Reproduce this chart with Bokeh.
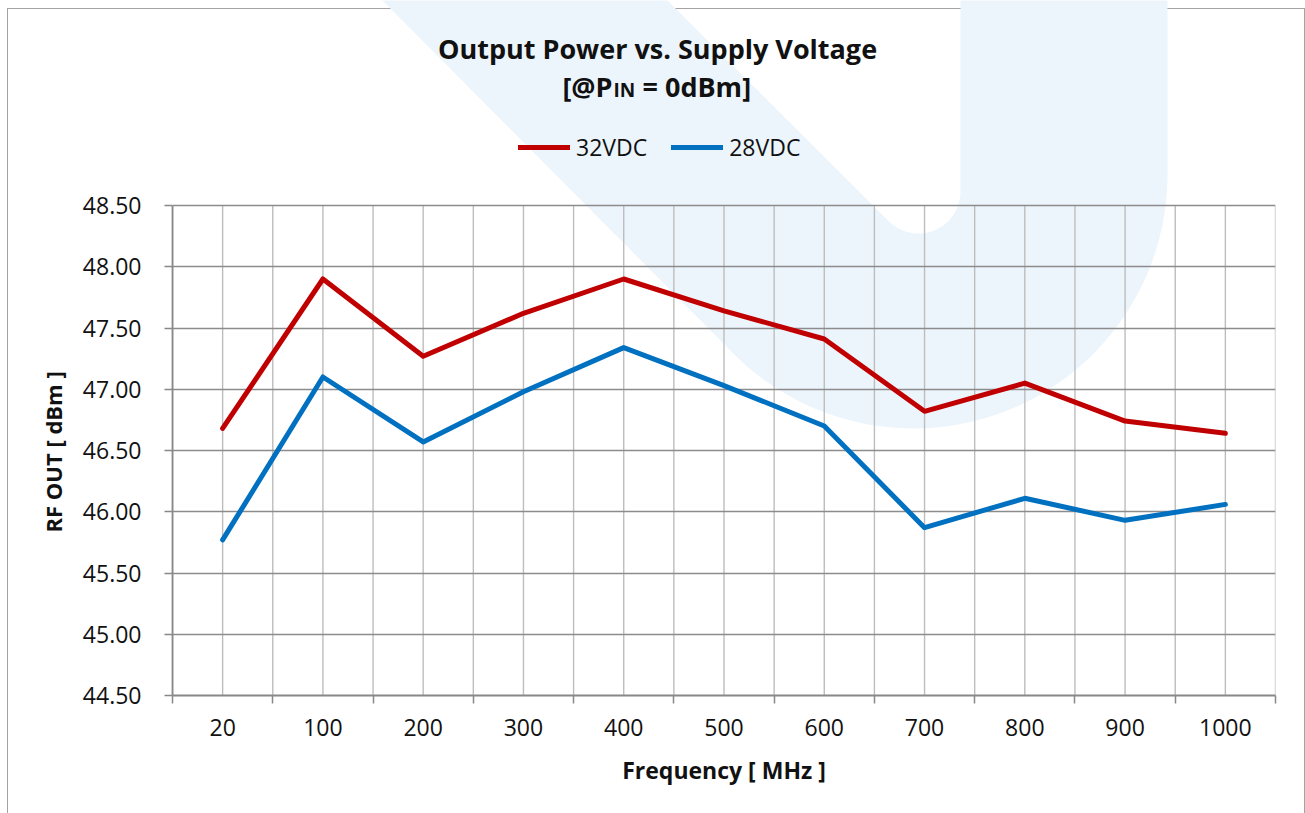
import numpy as np
from bokeh.plotting import figure
from bokeh.models import (FixedTicker, Range1d, Label, Legend, LegendItem,
                          PrintfTickFormatter, Title)
from bokeh.embed import file_html
from bokeh.resources import INLINE

# ---------------- data ----------------
freq_labels = ["20", "100", "200", "300", "400", "500", "600", "700", "800", "900", "1000"]
v32 = [46.68, 47.90, 47.27, 47.62, 47.90, 47.64, 47.41, 46.82, 47.05, 46.74, 46.64]
v28 = [45.77, 47.10, 46.57, 46.98, 47.34, 47.03, 46.70, 45.87, 46.11, 45.93, 46.06]
series_names = ["32VDC", "28VDC"]
y_ticks = [44.5, 45.0, 45.5, 46.0, 46.5, 47.0, 47.5, 48.0, 48.5]

FONT = "Open Sans"
W, H = 1305, 813
# plot-area edges in page pixels; the frame itself reaches the top of the canvas
FL, FR, FT, FB = 172, 1275, 205, 695
X0, X1 = -0.5, len(freq_labels) - 0.5
Y0, Y1 = y_ticks[0], y_ticks[-1]
YTOP = Y1 + FT * (Y1 - Y0) / (FB - FT)

def dx(px):
    return X0 + (px - FL) * (X1 - X0) / (FR - FL)

def dy(py):
    return Y1 - (py - FT) * (Y1 - Y0) / (FB - FT)

xs = list(range(len(freq_labels)))

p = figure(width=W, height=H, x_range=Range1d(X0, X1), y_range=Range1d(Y0, YTOP),
           output_backend="svg", toolbar_location=None,
           min_border_left=FL, min_border_right=W - FR,
           min_border_top=0, min_border_bottom=H - FB)
p.outline_line_color = None
p.background_fill_color = None
p.border_fill_color = None
# thin chart-area border (left / top / right)
p.styles = {"box-shadow": "inset 7px 8px 0 0 #FFFFFF, inset 8px 9px 0 0 #A3A3A3, "
                          "inset -1px 0 0 0 #A3A3A3",
            "background-color": "#FFFFFF"}

# ---------------- watermark (decorative "U") ----------------
def arc(cx, cy, r, a0, a1, n=48):
    t = np.radians(np.linspace(a0, a1, n))
    return list(cx + r * np.cos(t)), list(cy + r * np.sin(t))

wx, wy = [372], [-10]
ax_, ay_ = arc(913, 174, 254, 135, 0)
wx += ax_; wy += ay_
wx += [1167, 960]; wy += [-10, -10]
ax_, ay_ = arc(918, 191, 42, 0, 135)
wx += ax_; wy += ay_
wx += [657]; wy += [-10]
p.patch([dx(v) for v in wx], [dy(v) for v in wy], fill_color="#EDF5FC",
        line_color=None, level="image")

# ---------------- axes & grid ----------------
bounds_x = [i - 0.5 for i in range(len(freq_labels) + 1)]
xticker = FixedTicker(ticks=xs, minor_ticks=bounds_x)
p.xaxis.ticker = xticker
p.xaxis.major_label_overrides = {i: lab for i, lab in enumerate(freq_labels)}
p.xaxis.major_tick_out = 0
p.xaxis.major_tick_in = 0
p.xaxis.minor_tick_out = 8
p.xaxis.minor_tick_in = 0
p.xaxis.minor_tick_line_color = "#888888"
p.xaxis.minor_tick_line_width = 1.5

# vertical grid lines (category centres and boundaries), limited to the plot area
p.xgrid.visible = False
vx = sorted(xs + bounds_x)
p.segment(x0=vx, y0=[Y0] * len(vx), x1=vx, y1=[Y1] * len(vx),
          line_color="#BDBDBD", line_width=1.4, level="underlay")

yticker = FixedTicker(ticks=y_ticks, minor_ticks=[])
p.yaxis.ticker = yticker
p.ygrid.ticker = yticker
p.yaxis.bounds = (Y0, Y1)
p.yaxis.formatter = PrintfTickFormatter(format="%.2f")
p.yaxis.major_tick_out = 8
p.yaxis.major_tick_in = 0
p.yaxis.minor_tick_out = 0
p.yaxis.minor_tick_in = 0
p.yaxis.major_tick_line_color = "#888888"
p.yaxis.major_tick_line_width = 1.5
p.ygrid.grid_line_color = "#8C8C8C"
p.ygrid.grid_line_width = 1.7

for ax in (p.xaxis, p.yaxis):
    ax.axis_line_color = "#888888"
    ax.axis_line_width = 1.8
    ax.major_label_text_font = FONT
    ax.major_label_text_font_size = "23px"
    ax.major_label_text_color = "#111111"
    ax.axis_label_text_font = FONT
    ax.axis_label_text_font_style = "bold"
    ax.axis_label_text_font_size = "23px"
    ax.axis_label_text_color = "#111111"

p.xaxis.axis_label = "Frequency [ MHz ]"
p.xaxis.major_label_standoff = 15
p.xaxis.axis_label_standoff = 15
p.yaxis.major_label_standoff = 23

# y-axis title, centred on the plot area (not on the taller frame)
ytitle = Title(text="RF OUT [ dBm ]", align="left", offset=FB - 532,
               vertical_align="bottom", standoff=24,
               text_font=FONT, text_font_style="bold", text_font_size="22px",
               text_color="#111111")
p.add_layout(ytitle, "left")

# ---------------- series ----------------
r1 = p.line(xs, v32, line_color="#C00000", line_width=5, line_join="round", line_cap="round")
r2 = p.line(xs, v28, line_color="#0070C0", line_width=5, line_join="round", line_cap="round")

legend = Legend(items=[LegendItem(label=series_names[0], renderers=[r1]),
                       LegendItem(label=series_names[1], renderers=[r2])],
                orientation="horizontal", location=(346, 532),
                glyph_width=52, glyph_height=26, label_height=26,
                label_standoff=6, spacing=24, padding=0, margin=0,
                border_line_color=None, background_fill_alpha=0,
                label_text_font=FONT, label_text_font_size="23px",
                label_text_color="#111111")
p.add_layout(legend)

# ---------------- title ----------------
title_style = dict(text_font=FONT, text_font_style="bold", text_color="#111111",
                   text_baseline="alphabetic")
p.add_layout(Label(x=dx(657), y=dy(48), text="Output Power vs. Supply Voltage",
                   text_align="center", text_font_size="27px", **title_style))
p.add_layout(Label(x=dx(612), y=dy(86), text="[@P",
                   text_align="right", text_font_size="27px", **title_style))
p.add_layout(Label(x=dx(613), y=dy(89), text="IN",
                   text_align="left", text_font_size="19px", **title_style))
p.add_layout(Label(x=dx(642), y=dy(86), text="= 0dBm]",
                   text_align="left", text_font_size="27px", **title_style))

open("out.html", "w").write(file_html(p, INLINE))
